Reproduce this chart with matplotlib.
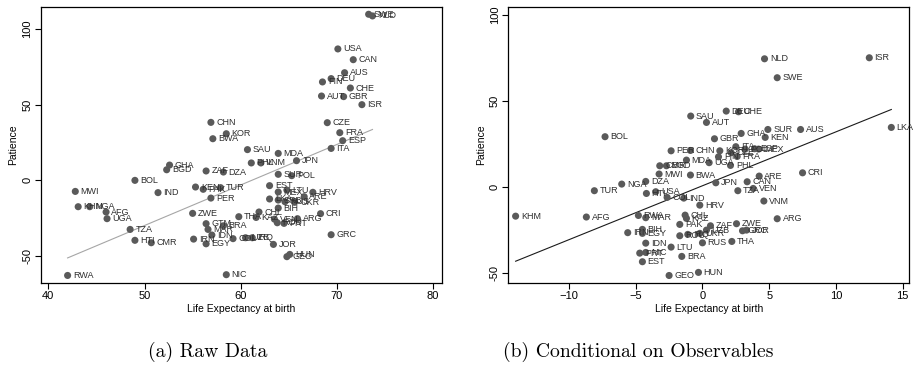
import numpy as np
import matplotlib
matplotlib.use("Agg")
import matplotlib.pyplot as plt

plt.rcParams["font.family"] = ["Liberation Sans", "DejaVu Sans"]

# panel (a): raw data
raw_codes = ["SWE", "NLD", "USA", "CAN", "AUS", "DEU", "FIN", "CHE", "AUT", "GBR",
             "ISR", "CZE", "FRA", "ESP", "ITA", "CHN", "KOR", "BWA", "SAU", "MDA",
             "JPN", "PHL", "VNM", "GHA", "BGD", "ZAF", "DZA", "SUR", "POL", "BOL",
             "EST", "KEN", "PAK", "TUR", "MWI", "IND", "MEX", "LTU", "HRV", "ARE",
             "PER", "LKA", "SRB", "RUS", "UKR", "KHM", "NGA", "AFG", "UGA", "BIH",
             "CHL", "CRI", "ZWE", "THA", "KAZ", "VEN", "ARG", "ROU", "PRT", "GTM",
             "MAR", "BRA", "TZA", "GRC", "HTI", "CMR", "IRN", "IDN", "COL", "UZB",
             "IRQ", "EGY", "JOR", "HUN", "GEO", "RWA", "NIC"]
raw_life = [73.3, 73.7, 70.1, 71.7, 70.8, 69.4, 68.5, 71.4, 68.4, 70.7,
            72.6, 69.0, 70.3, 70.6, 69.4, 56.9, 58.5, 57.1, 60.7, 63.9,
            65.8, 61.1, 62.1, 52.6, 52.3, 56.4, 58.2, 63.9, 65.3, 49.0,
            63.0, 55.3, 56.1, 57.9, 42.8, 51.4, 63.9, 64.8, 67.5, 66.6,
            56.9, 63.0, 63.9, 64.6, 65.6, 43.1, 44.3, 46.0, 46.1, 63.9,
            61.9, 68.3, 55.0, 59.8, 61.6, 63.5, 65.9, 63.8, 64.5, 56.4,
            56.6, 58.2, 48.5, 69.4, 49.0, 50.7, 55.1, 57.0, 59.2, 60.5,
            61.2, 56.4, 63.4, 65.1, 64.8, 42.0, 58.5]
raw_pat = [109.7, 108.6, 86.8, 79.7, 71.1, 67.2, 65.0, 61.0, 55.7, 55.3,
           50.0, 38.1, 31.5, 26.2, 21.1, 38.3, 30.8, 27.5, 20.3, 17.8,
           13.0, 11.5, 11.5, 10.1, 7.0, 6.2, 5.5, 4.0, 3.1, 0.0,
           -3.5, -4.4, -5.9, -4.8, -7.3, -8.1, -7.7, -6.4, -7.9, -10.8,
           -11.7, -12.3, -13.0, -14.1, -14.5, -17.4, -17.4, -20.9, -25.3, -18.3,
           -20.9, -22.0, -21.8, -24.0, -24.5, -25.6, -25.3, -28.0, -28.4, -28.6,
           -32.4, -30.0, -32.4, -35.9, -39.6, -41.2, -38.8, -36.1, -38.5, -37.9,
           -37.9, -41.9, -42.3, -48.9, -50.4, -62.8, -62.3]

# panel (b): residuals conditional on observables
res_codes = ["ISR", "NLD", "SWE", "DEU", "CHE", "SAU", "AUT", "SUR", "AUS", "LKA",
             "BOL", "GHA", "KEN", "GBR", "PER", "CHN", "KOR", "ITA", "CZE", "POL",
             "ESP", "MEX", "FIN", "FRA", "MDA", "UGA", "PHL", "CMR", "BGD", "MWI",
             "BWA", "CRI", "ARE", "DZA", "NGA", "JPN", "CAN", "VEN", "TZA", "TUR",
             "USA", "HTI", "COL", "IND", "HRV", "VNM", "KHM", "AFG", "RWA", "MAR",
             "CHL", "KAZ", "ARG", "PAK", "ZAF", "ZWE", "GRC", "JOR", "IRN", "BIH",
             "EGY", "ROU", "IRQ", "UKR", "UZB", "RUS", "THA", "IDN", "LTU", "PRT",
             "NIC", "EST", "BRA", "GEO", "HUN"]
res_life = [12.5, 4.65, 5.6, 1.78, 2.7, -0.88, 0.3, 4.9, 7.35, 14.15,
            -7.3, 2.9, 4.7, 0.9, -2.35, -0.9, 1.3, 2.5, 2.15, 3.2,
            3.9, 4.2, 1.2, 2.6, -1.2, 0.5, 2.1, -3.2, -2.7, -3.25,
            -0.9, 7.5, 4.25, -4.25, -6.05, 1.0, 3.35, 3.8, 2.65, -8.1,
            -3.5, -4.2, -2.65, -1.4, -0.2, 4.6, -14.0, -8.7, -4.8, -4.25,
            -1.3, -1.2, 5.6, -1.7, 0.6, 2.55, 3.0, 3.3, -5.6, -4.5,
            -4.5, -1.7, -1.1, -0.2, 0.3, 0.0, 2.2, -4.25, -2.35, -4.7,
            -4.25, -4.5, -1.55, -2.5, -0.3]
res_pat = [75.0, 74.4, 63.4, 44.0, 43.6, 41.1, 37.4, 33.3, 33.3, 34.5,
           29.1, 31.0, 28.7, 27.9, 20.9, 21.1, 20.9, 23.3, 19.8, 21.9,
           22.1, 21.9, 17.4, 17.6, 15.5, 14.0, 12.4, 12.2, 12.2, 7.4,
           6.8, 8.1, 6.2, 3.1, 1.55, 2.3, 2.9, -1.0, -2.3, -2.3,
           -2.9, -3.9, -6.2, -6.6, -10.7, -8.3, -17.1, -17.6, -16.7, -18.0,
           -16.5, -18.4, -18.6, -21.9, -22.7, -21.5, -25.6, -25.2, -26.7, -24.8,
           -27.1, -28.5, -27.7, -27.1, -25.2, -32.6, -31.8, -32.8, -35.1, -38.6,
           -38.2, -43.6, -40.5, -51.6, -49.8]

dot_color = "#5a5a5a"
txt_color = "#2e2e2e"

fig = plt.figure(figsize=(9.14, 3.76), dpi=100)
ax1 = fig.add_axes([0.0445, 0.2481, 0.4388, 0.7341])
ax2 = fig.add_axes([0.5561, 0.2481, 0.4388, 0.7341])


def panel(ax, codes, x, y, line_color, xlim, ylim, xticks):
    x = np.array(x)
    y = np.array(y)
    b, a = np.polyfit(x, y, 1)
    xs = np.array([x.min(), x.max()])
    ax.plot(xs, a + b * xs, color=line_color, lw=0.8, zorder=1)
    ax.scatter(x, y, s=26, color=dot_color, edgecolors="none", zorder=2)
    for c, xi, yi in zip(codes, x, y):
        ax.annotate(c, (xi, yi), xytext=(3.8, 0), textcoords="offset points",
                    ha="left", va="center", fontsize=6.5, color=txt_color,
                    annotation_clip=False, zorder=3)
    ax.set_xlim(*xlim)
    ax.set_ylim(*ylim)
    ax.set_xticks(xticks)
    ax.set_yticks([-50, 0, 50, 100])
    ax.set_yticklabels(["-50", "0", "50", "100"], rotation=90, va="center")
    ax.tick_params(labelsize=8, length=4, width=0.8, direction="out", pad=2)
    ax.set_xlabel("Life Expectancy at birth", fontsize=7.5, labelpad=2)
    ax.set_ylabel("Patience", fontsize=7.5, labelpad=3)
    for s in ax.spines.values():
        s.set_linewidth(0.9)


panel(ax1, raw_codes, raw_life, raw_pat, "#a6a6a6",
      (39.2, 80.9), (-67.6, 114.7), [40, 50, 60, 70, 80])
panel(ax2, res_codes, res_life, res_pat, "#1a1a1a",
      (-14.55, 15.5), (-55.8, 104.7), [-10, -5, 0, 5, 10, 15])

fig.text(0.2276, 0.064, "(a) Raw Data", fontsize=14.2, family="cmr10",
         ha="center", va="center")
fig.text(0.698, 0.064, "(b) Conditional on Observables", fontsize=14.2,
         family="cmr10", ha="center", va="center")

fig.savefig("out.png", dpi=100)
